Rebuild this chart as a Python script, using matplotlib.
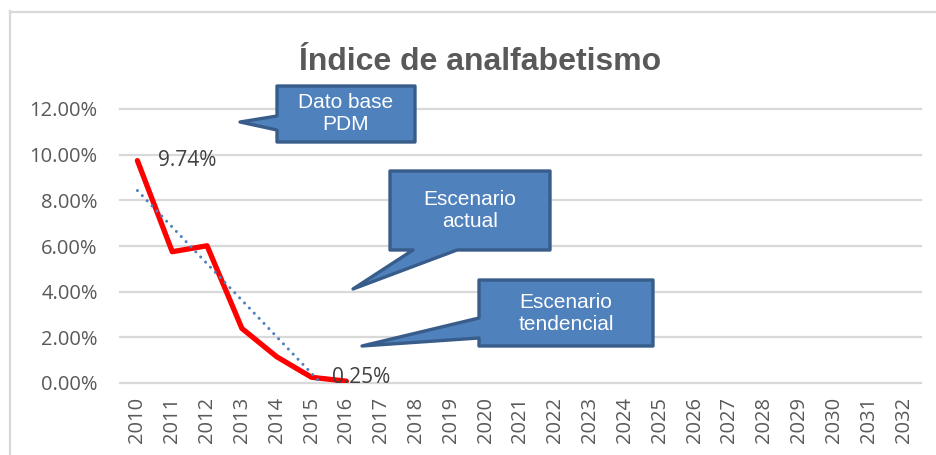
import numpy as np
import matplotlib
matplotlib.use("Agg")
import matplotlib.pyplot as plt
from matplotlib.patches import Polygon
from matplotlib.lines import Line2D

# ---------------- data ----------------
years = list(range(2010, 2033))
actual_years = [2010, 2011, 2012, 2013, 2014, 2015, 2016]
actual_values = [9.74, 5.75, 6.01, 2.39, 1.15, 0.25, 0.08]   # percent
y_ticks = [0, 2, 4, 6, 8, 10, 12]
title_text = "Índice de analfabetismo"
labelled_years = [2010, 2015]
callout_texts = ["Dato base\nPDM", "Escenario\nactual", "Escenario\ntendencial"]

# ---------------- figure ----------------
W, H = 937, 455
fig = plt.figure(figsize=(W / 100, H / 100), dpi=100)
fig.patch.set_facecolor("white")

def P(x, y):
    return (x / W, 1 - y / H)

# outer chart frame (only left & top visible in the crop)
fig.add_artist(Line2D([10.5 / W, 10.5 / W], [1 - 11 / H, 0], transform=fig.transFigure,
                      color="#D9D9D9", lw=1.6))
fig.add_artist(Line2D([10 / W, 1], [1 - 11.5 / H, 1 - 11.5 / H], transform=fig.transFigure,
                      color="#D9D9D9", lw=1.6))

ax = fig.add_axes([120 / W, 1 - 383 / H, (921 - 120) / W, (383 - 109) / H])
ax.set_facecolor("none")
ax.set_xlim(-0.5, len(years) - 0.5)
ax.set_ylim(0, 12)

ax.set_yticks(y_ticks)
ax.set_yticklabels([f"{v:.2f}%" for v in y_ticks])
ax.set_xticks(range(len(years)))
ax.set_xticklabels([str(y) for y in years], rotation=90)
ax.tick_params(axis="both", length=0, labelsize=14.5, labelcolor="#595959")
ax.tick_params(axis="y", pad=16)
ax.tick_params(axis="x", pad=10)
for lab in ax.get_xticklabels() + ax.get_yticklabels():
    lab.set_fontfamily(["Open Sans", "DejaVu Sans"])

ax.grid(axis="y", color="#D9D9D9", lw=1.6)
ax.set_axisbelow(True)
for gl in ax.yaxis.get_gridlines():
    gl.set_clip_on(False)
for s in ax.spines.values():
    s.set_visible(False)

x_idx = np.array([years.index(y) for y in actual_years], dtype=float)
vals = np.array(actual_values)

# actual series
ax.plot(x_idx, vals, color="#FF0000", lw=3.8, solid_joinstyle="round",
        solid_capstyle="round", zorder=3)

# linear trendline (fit of the series), clipped at 0 by the axis
coef = np.polyfit(x_idx, vals, 1)
tx = np.linspace(x_idx[0], x_idx[-1], 200)
ax.plot(tx, np.polyval(coef, tx), color="#4F81BD", lw=2.2,
        ls=(0, (0.01, 2.3)), dash_capstyle="round", zorder=4)

# data labels
for yr in labelled_years:
    i = actual_years.index(yr)
    ax.annotate(f"{actual_values[i]:.2f}%", (x_idx[i], vals[i]), xytext=(14.5, 0),
                textcoords="offset points", va="center", ha="left",
                fontsize=15, color="#404040", family=["Open Sans", "DejaVu Sans"],
                zorder=5, annotation_clip=False)

# title
fig.text(480 / W, 1 - 70.5 / H, title_text, ha="center", va="baseline",
         fontsize=23, fontweight="bold", color="#595959",
         family=["Liberation Sans", "DejaVu Sans"])

# ---------------- callouts ----------------
FILL, EDGE = "#4F81BD", "#385D8A"

def callout_left(box, tail_y, tip, text):
    x0, y0, x1, y1 = box
    pts = [(x0, y0), (x1, y0), (x1, y1), (x0, y1), (x0, tail_y[1]), tip, (x0, tail_y[0])]
    draw(pts, box, text)

def callout_bottom(box, tail_x, tip, text):
    x0, y0, x1, y1 = box
    pts = [(x0, y0), (x1, y0), (x1, y1), (tail_x[1], y1), tip, (tail_x[0], y1), (x0, y1)]
    draw(pts, box, text)

def draw(pts, box, text):
    poly = Polygon([P(*p) for p in pts], closed=True, transform=fig.transFigure,
                   facecolor=FILL, edgecolor=EDGE, lw=2.4, joinstyle="round", zorder=10)
    fig.add_artist(poly)
    x0, y0, x1, y1 = box
    fig.text(*P((x0 + x1) / 2, (y0 + y1) / 2), text, ha="center", va="center",
             color="white", fontsize=15, linespacing=1.2, zorder=11,
             family=["Liberation Sans", "DejaVu Sans"])

callout_left((277, 86, 415, 142), (116, 130), (240, 122), callout_texts[0])
callout_bottom((390, 171, 550, 250), (413, 457), (353, 289), callout_texts[1])
callout_left((479, 280, 653, 346), (318, 338), (362, 346), callout_texts[2])

fig.savefig("out.png", dpi=100, facecolor="white")
